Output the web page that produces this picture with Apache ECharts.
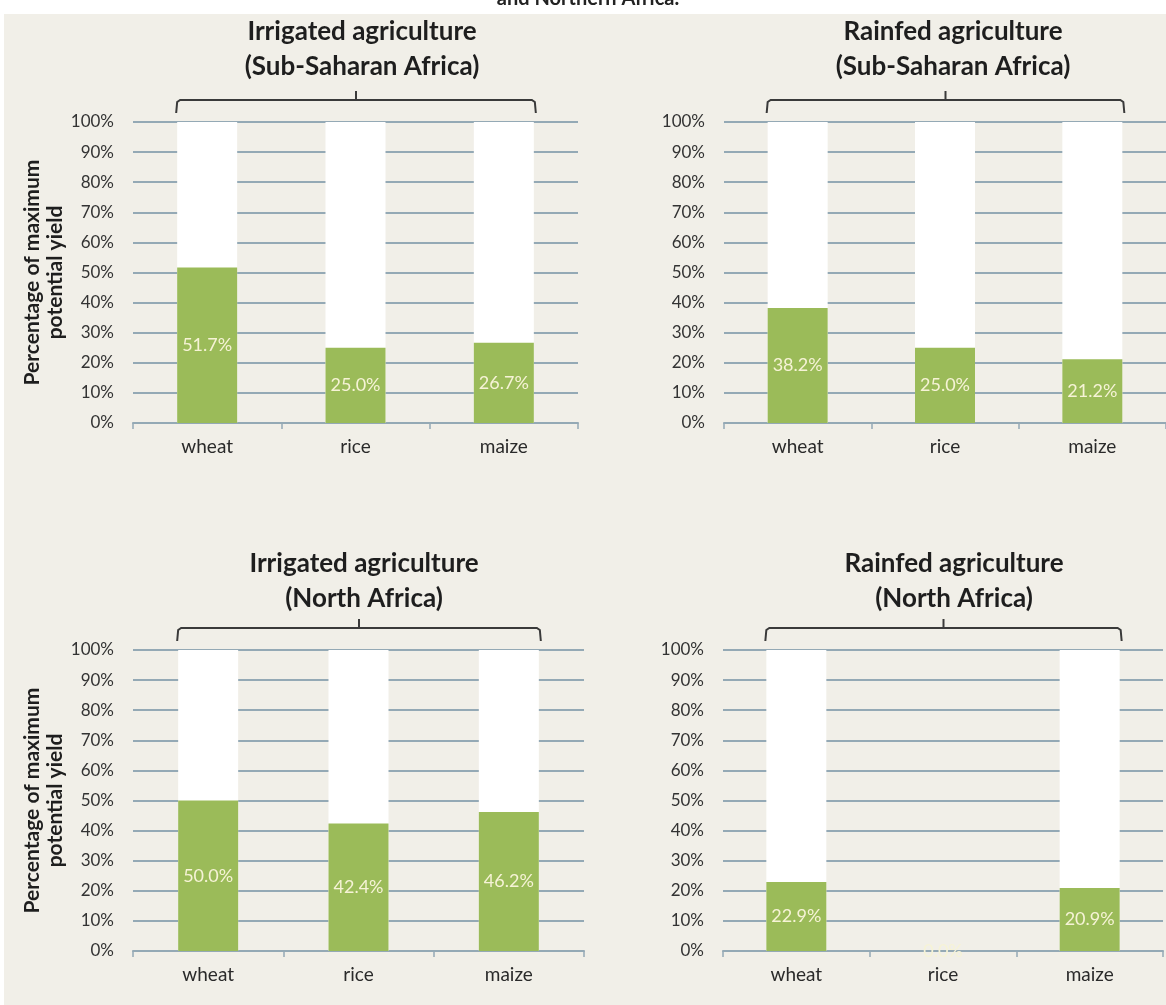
<!DOCTYPE html>
<html>
<head>
<meta charset="utf-8">
<script src="https://cdn.jsdelivr.net/npm/echarts@6/dist/echarts.min.js"></script>
<style>
  html, body { margin: 0; padding: 0; background: #fff; }
  #chart {
    width: 1166px;
    height: 1005px;
    background:
      linear-gradient(#fff, #fff) 0 0 / 100% 14px no-repeat,
      linear-gradient(#fff, #fff) 0 0 / 4px 100% no-repeat,
      #f1efe8;
  }
</style>
</head>
<body>
<div id="chart"></div>
<script>
// crops on the x axis
const categories = ['wheat', 'rice', 'maize'];

// share of maximum potential yield (%)
const irrigatedSubSaharan = [51.7, 25.0, 26.7];
const rainfedSubSaharan = [38.2, 25.0, 21.2];
const irrigatedNorth = [50.0, 42.4, 46.2];
const rainfedNorth = [22.9, 0.0, 20.9];

// white "potential" bars behind the green ones (rice has none in rainfed north)
const potentialFull = [100, 100, 100];
const potentialRainfedNorth = [100, null, 100];

const panelTitles = [
  'Irrigated agriculture\n(Sub-Saharan Africa)',
  'Rainfed agriculture\n(Sub-Saharan Africa)',
  'Irrigated agriculture\n(North Africa)',
  'Rainfed agriculture\n(North Africa)'
];

const green = '#9bbb59';
const gridColor = '#94a9b5';
const font = 'Lato';

// layout of the four panels
const panels = [
  {left: 133, top: 122, width: 445, height: 301, titleX: 357, titleY: 9, values: irrigatedSubSaharan, potential: potentialFull, yName: true},
  {left: 724, top: 122, width: 442, height: 301, titleX: 948, titleY: 9, values: rainfedSubSaharan, potential: potentialFull, yName: false},
  {left: 133, top: 650, width: 451, height: 301, titleX: 359, titleY: 541, values: irrigatedNorth, potential: potentialFull, yName: true},
  {left: 723, top: 650, width: 440, height: 301, titleX: 949, titleY: 541, values: rainfedNorth, potential: potentialRainfedNorth, yName: false}
];

const chart = echarts.init(document.getElementById('chart'));

const option = {
  backgroundColor: 'transparent',
  animation: false,
  textStyle: {fontFamily: font},
  title: [
    {
      text: 'and Northern Africa.',
      left: 583,
      top: -16,
      textAlign: 'center',
      textStyle: {fontFamily: font, fontSize: 20, fontWeight: 'bold', color: '#222'}
    }
  ].concat(panels.map((p, i) => ({
    text: panelTitles[i],
    left: p.titleX,
    top: p.titleY,
    textAlign: 'center',
    textStyle: {fontFamily: font, fontSize: 26, fontWeight: 'bold', lineHeight: 35, color: '#1e1e1e'}
  }))),
  grid: panels.map(p => ({left: p.left, top: p.top, width: p.width, height: p.height})),
  xAxis: panels.map((p, i) => ({
    gridIndex: i,
    type: 'category',
    data: categories,
    axisLine: {lineStyle: {color: gridColor, width: 2}},
    axisTick: {show: true, length: 6, lineStyle: {color: gridColor, width: 1.5}},
    axisLabel: {color: '#2a2a2a', fontSize: 19, margin: 14, fontFamily: font}
  })),
  yAxis: panels.map((p, i) => ({
    gridIndex: i,
    type: 'value',
    min: 0,
    max: 100,
    interval: 10,
    name: p.yName ? 'Percentage of maximum\npotential yield' : '',
    nameLocation: 'middle',
    nameRotate: 90,
    nameGap: 64,
    nameTextStyle: {fontFamily: font, fontSize: 21, fontWeight: 'bold', lineHeight: 23, color: '#1e1e1e'},
    axisLine: {show: false},
    axisTick: {show: false},
    splitLine: {lineStyle: {color: gridColor, width: 2}},
    axisLabel: {formatter: '{value}%', color: '#333', fontSize: 17, margin: 19, fontFamily: font}
  })),
  series: panels.flatMap((p, i) => [
    {
      type: 'bar',
      xAxisIndex: i,
      yAxisIndex: i,
      data: p.potential,
      barWidth: 60,
      barGap: '-100%',
      silent: true,
      itemStyle: {color: '#ffffff'},
      z: 2
    },
    {
      type: 'bar',
      xAxisIndex: i,
      yAxisIndex: i,
      data: p.values,
      barWidth: 60,
      itemStyle: {color: green},
      z: 3,
      label: {
        show: true,
        position: 'inside',
        formatter: d => d.value.toFixed(1) + '%',
        color: '#f6f3d6',
        fontSize: 18,
        fontFamily: font
      }
    }
  ]),
  graphic: panels.map(p => {
    // bracket spanning the three bars above each panel
    const catW = p.width / categories.length;
    const x1 = p.left + catW / 2 - 31;
    const x2 = p.left + p.width - catW / 2 + 32;
    const mid = (x1 + x2) / 2;
    const yh = p.top - 22;
    return {
      type: 'group',
      children: [
        {type: 'polyline', shape: {points: [[x1, p.top - 9], [x1 + 1, yh + 2], [x1 + 4, yh], [x2 - 4, yh], [x2 - 1, yh + 2], [x2, p.top - 9]]},
          style: {stroke: '#3a3a3a', lineWidth: 2, fill: null}},
        {type: 'line', shape: {x1: mid, y1: yh, x2: mid, y2: yh - 9},
          style: {stroke: '#3a3a3a', lineWidth: 2}}
      ]
    };
  })
};

chart.setOption(option);
</script>
</body>
</html>
